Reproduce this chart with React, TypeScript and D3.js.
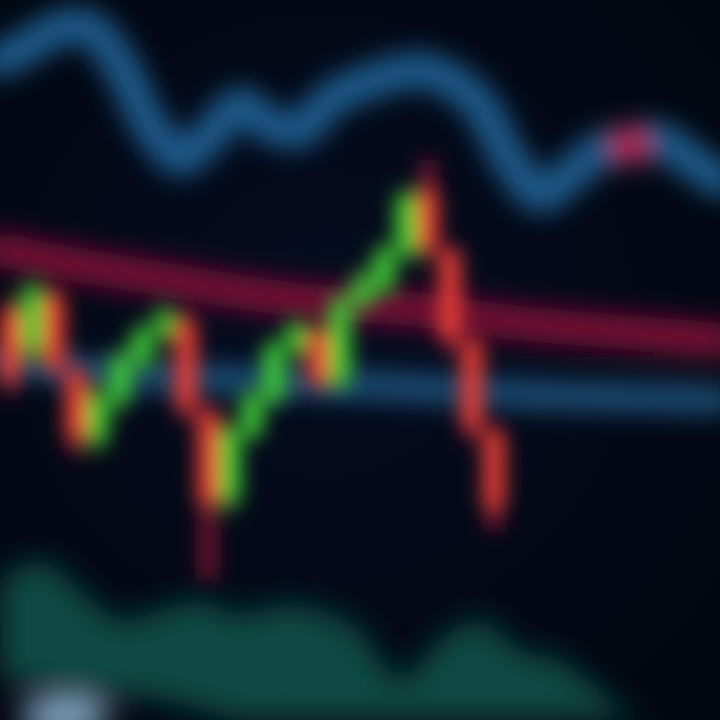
import React from "react";
import * as d3 from "d3";

// Candles: [open, close, high, low]
const candleOpen = [141, 137, 142.5, 135, 128, 132, 135.5, 138.5, 140, 131, 122, 128.5, 132, 137, 139, 133.5, 141.5, 143, 146.5, 153, 147, 138, 129];
const candleClose = [134, 143, 135, 128, 132.5, 136, 139, 140.5, 131, 121.5, 129, 132.5, 137.5, 139.5, 133.5, 142, 144, 147, 152.5, 147, 138, 129, 121];
const candleHigh = [142, 144, 143.5, 135.5, 133, 137, 139.5, 141.5, 141, 131.5, 129.5, 133, 138, 140, 139.5, 142.5, 145, 147.5, 153, 156, 147.5, 138.5, 129.5];
const candleLow = [132.5, 136, 134.5, 126.5, 127, 131, 135, 138, 130, 114, 121, 128, 131.5, 136.5, 133, 133, 141, 142.5, 146, 146, 137, 128, 119];

// Upper blue line (price)
const upperLine = [166, 167.5, 169.2, 169.2, 165.5, 159.5, 156.2, 158.5, 161.5, 159.5, 159, 162, 163.5, 164.5, 165, 164, 161.5, 156, 152.5, 154.5, 157, 157.5, 158, 156, 154];
const markerIndex = 21;

// Moving averages
const redMA = [147, 145.8, 144.8, 143.8, 142.8, 142, 141.5, 141, 140.2, 139.5, 139, 138.5, 138];
const blueMA = [136, 135.2, 134.5, 134.2, 134, 133.8, 133.5, 133.2, 132.8, 132.5, 132.3, 132.2, 132];

// Volume band (top, bottom)
const volumeTop = [140, 160, 130, 100, 110, 120, 105, 115, 110, 90, 40, 80, 100, 70, 60, 30, 0, 0, 0];
const volumeBottom = [40, 35, 30, 25, 20, 10, 0, 0, 0, 0, 0, 0, 0, 0, 0, 0, 0, 0, 0];

const W = 720;
const H = 720;

export default function App() {
  const y = d3.scaleLinear().domain([100, 172]).range([H, 0]);
  const band = d3.scaleBand<number>().domain(d3.range(candleOpen.length)).range([-1, 505]).padding(0.0);
  const xUp = d3.scaleLinear().domain([0, upperLine.length - 1]).range([0, W]);
  const xMA = d3.scaleLinear().domain([0, redMA.length - 1]).range([0, W]);
  const xVol = d3.scaleLinear().domain([0, volumeTop.length - 1]).range([0, W]);
  const yVol = d3.scaleLinear().domain([0, 200]).range([H, H - 200]);

  const line = d3.line<number>().curve(d3.curveCatmullRom.alpha(0.5));
  const upperPath = line(upperLine.map((v, i) => [xUp(i), y(v)] as any) as any);
  const redPath = line(redMA.map((v, i) => [xMA(i), y(v)] as any) as any);
  const bluePath = line(blueMA.map((v, i) => [xMA(i), y(v)] as any) as any);
  const area = d3
    .area<number>()
    .x((_, i) => xVol(i))
    .y0((_, i) => yVol(volumeBottom[i]))
    .y1((d) => yVol(d))
    .curve(d3.curveCatmullRom.alpha(0.5));
  const volPath = area(volumeTop);

  return (
    <svg width={W} height={H} style={{ position: "fixed", left: 0, top: 0, display: "block" }}>
      <defs>
        <filter id="blurC" x="-30%" y="-30%" width="160%" height="160%">
          <feGaussianBlur stdDeviation="10" />
        </filter>
        <filter id="blurL" x="-30%" y="-30%" width="160%" height="160%">
          <feGaussianBlur stdDeviation="13" />
        </filter>
        <filter id="blurV" x="-30%" y="-30%" width="160%" height="160%">
          <feGaussianBlur stdDeviation="15" />
        </filter>
        <radialGradient id="bg" cx="45%" cy="45%" r="75%">
          <stop offset="0%" stopColor="#050c20" />
          <stop offset="100%" stopColor="#02060f" />
        </radialGradient>
      </defs>
      <rect width={W} height={H} fill="url(#bg)" />
      <g filter="url(#blurV)">
        <path d={volPath || ""} fill="#0b4a42" />
        <ellipse cx={65} cy={716} rx={44} ry={20} fill="#86aac6" />
      </g>
      <g filter="url(#blurL)">
        <path d={upperPath || ""} fill="none" stroke="#1a5a8a" strokeWidth={36} strokeLinecap="round" strokeLinejoin="round" />
        <circle cx={xUp(markerIndex)} cy={y(upperLine[markerIndex])} r={18} fill="#c0144a" />
        <path d={redPath || ""} fill="none" stroke="#7a0e34" strokeWidth={34} strokeLinecap="round" />
        <path d={bluePath || ""} fill="none" stroke="#1b5078" strokeWidth={28} strokeLinecap="round" />
      </g>
      <g filter="url(#blurC)">
        {candleOpen.map((o, i) => {
          const c = candleClose[i];
          const up = c >= o;
          const col = up ? "#3fcc35" : "#ea3d36";
          const x0 = band(i) as number;
          const bw = band.bandwidth();
          const cx = x0 + bw / 2;
          return (
            <g key={i}>
              <line x1={cx} x2={cx} y1={y(candleHigh[i])} y2={y(candleLow[i])} stroke={up ? "#3a9a30" : "#8a1634"} strokeWidth={14} />
              <rect x={x0} y={y(Math.max(o, c))} width={bw} height={Math.abs(y(o) - y(c))} fill={col} rx={8} />
            </g>
          );
        })}
      </g>
    </svg>
  );
}
